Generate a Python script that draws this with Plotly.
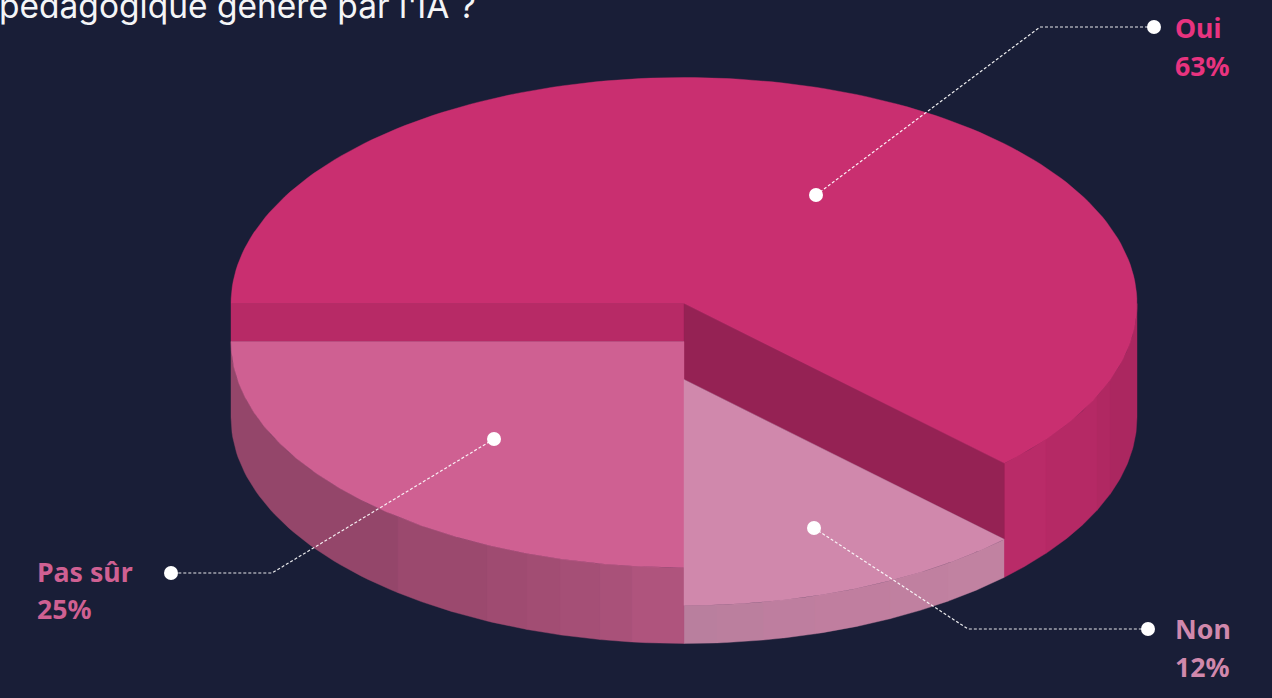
import math
import plotly.graph_objects as go

# ---- data ----
categories = ["Oui", "Non", "Pas sûr"]          # clockwise from the left edge
slice_shares = [62.5, 12.5, 25.0]               # drawn share of the disc
percent_labels = ["63%", "12%", "25%"]
title_line = "pédagogique généré par l'IA ?"

# ---- styles / layout ----
W, H = 1272, 698
BG = "#191E37"
CX, CY, RX, RY = 684, 303.5, 453, 226
BASE_Y = 417.5
tier_drop = {"Oui": 0, "Non": 76, "Pas sûr": 38}
top_colors = {"Oui": "#C92F70", "Non": "#D088AC", "Pas sûr": "#CF6092"}
label_colors = {"Oui": "#E8337F", "Non": "#D088AC", "Pas sûr": "#CF6092"}
wall_left = "#B72A66"
wall_right = "#952254"
band_edges = {
    "Oui": [1004, 1046, 1097, 1110, 1137],
    "Non": [684, 717, 763, 815, 890, 948, 1004],
    "Pas sûr": [231, 398, 487, 527, 560, 600, 632, 684],
}
band_colors = {
    "Oui": ["#B92B68", "#B52965", "#B02862", "#AB2760"],
    "Non": ["#B97F9E", "#BB7F9E", "#BE7E9F", "#C07E9F", "#C080A0", "#C182A1"],
    "Pas sûr": ["#94466A", "#9B496E", "#9F4B71", "#A24D73", "#A54F76", "#A95179", "#AF547D"],
}
leaders = {
    "Oui": [(816, 195), (1040, 27), (1154, 27)],
    "Non": [(814, 528), (968, 629), (1148, 629)],
    "Pas sûr": [(494, 439), (272, 573), (171, 573)],
}
label_pos = {"Oui": (1172.5, 27.5, 65.5), "Non": (1172.5, 628, 666.5), "Pas sûr": (34.5, 571.5, 608.5)}


def arc(a0, a1, cy, n=160):
    """Points on the ellipse centred at (CX, cy); angles in degrees, y down-positive on screen."""
    pts = []
    for i in range(n + 1):
        a = math.radians(a0 + (a1 - a0) * i / n)
        pts.append((CX + RX * math.cos(a), cy - RY * math.sin(a)))
    return pts


def poly(fig, pts, color):
    xs = [p[0] for p in pts] + [pts[0][0]]
    ys = [p[1] for p in pts] + [pts[0][1]]
    fig.add_trace(go.Scatter(x=xs, y=ys, mode="lines", fill="toself", fillcolor=color,
                             line=dict(color=color, width=0.4), hoverinfo="skip", showlegend=False))


# slice angles from shares, clockwise from 180 degrees
angles = {}
start = 180.0
for name, share in zip(categories, slice_shares):
    end = start - share / sum(slice_shares) * 360
    angles[name] = (start, end)
    start = end

fig = go.Figure()

# outer sides, banded
for name in categories:
    a0, a1 = angles[name]
    top_cy = CY + tier_drop[name]
    edges = band_edges[name]
    for x0, x1, c in zip(edges[:-1], edges[1:], band_colors[name]):
        t0 = -math.degrees(math.acos(min(1, max(-1, (x0 - CX) / RX))))
        t1 = -math.degrees(math.acos(min(1, max(-1, (x1 - CX) / RX))))
        upper = arc(t0, t1, top_cy, 40)
        lower = arc(t1, t0, BASE_Y, 40)
        poly(fig, upper + lower, c)

# inner walls exposed by the stepped slices
a_left, a_right = angles["Oui"]
rim = arc(a_right, a_right, CY, 1)[0]
poly(fig, [(CX - RX, CY), (CX, CY), (CX, CY + tier_drop["Pas sûr"]), (CX - RX, CY + tier_drop["Pas sûr"])], wall_left)
poly(fig, [(CX, CY), rim, (rim[0], rim[1] + tier_drop["Non"]), (CX, CY + tier_drop["Non"])], wall_right)

# top faces
for name in ["Pas sûr", "Non", "Oui"]:
    a0, a1 = angles[name]
    cy = CY + tier_drop[name]
    poly(fig, [(CX, cy)] + arc(a0, a1, cy), top_colors[name])

# leader lines and dots
for name in categories:
    pts = leaders[name]
    fig.add_trace(go.Scatter(x=[p[0] for p in pts], y=[p[1] for p in pts], mode="lines",
                             line=dict(color="rgba(255,255,255,0.9)", width=1.2, dash="3px,2px"),
                             hoverinfo="skip", showlegend=False))
    fig.add_trace(go.Scatter(x=[pts[0][0], pts[-1][0]], y=[pts[0][1], pts[-1][1]], mode="markers",
                             marker=dict(color="white", size=14), hoverinfo="skip", showlegend=False))

annotations = []
for name, pct in zip(categories, percent_labels):
    x, y1, y2 = label_pos[name]
    for txt, y in ((name, y1), (pct, y2)):
        annotations.append(dict(x=x, y=y, text=f"<b>{txt}</b>", xref="x", yref="y", showarrow=False,
                                xanchor="left", yanchor="middle",
                                font=dict(family="Noto Sans", size=26.7, color=label_colors[name])))
annotations.append(dict(x=0, y=6, xshift=-3, text=title_line, xref="x", yref="y", showarrow=False,
                        xanchor="left", yanchor="middle",
                        font=dict(family="Inter", size=33.5, color="#F4F5F7")))

fig.update_layout(
    width=W, height=H, margin=dict(l=0, r=0, t=0, b=0),
    paper_bgcolor=BG, plot_bgcolor=BG,
    xaxis=dict(range=[0, W], visible=False, fixedrange=True),
    yaxis=dict(range=[H, 0], visible=False, fixedrange=True),
    annotations=annotations, showlegend=False,
)
fig.write_html("out.html", config={"displayModeBar": False},
               post_script="document.body.style.margin='0';document.body.style.background='#191E37';document.body.style.overflow='hidden';")
